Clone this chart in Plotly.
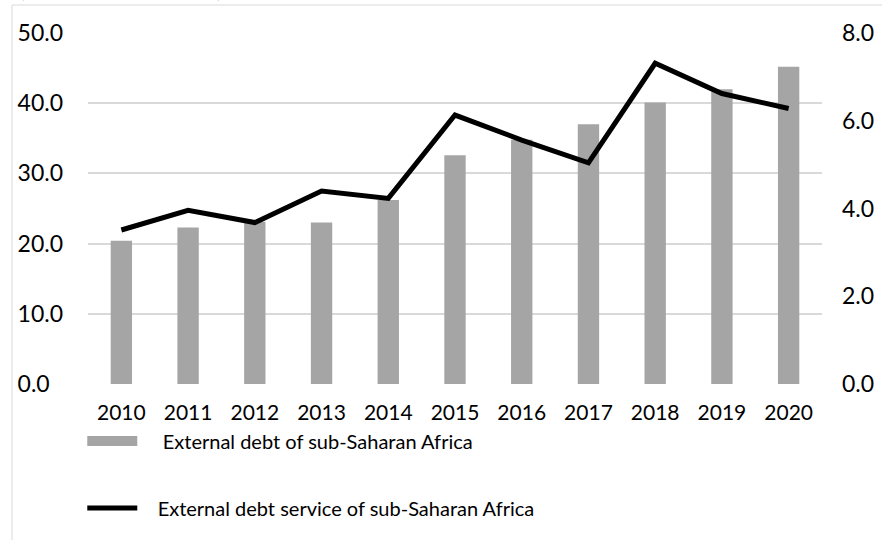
import plotly.graph_objects as go

years = ["2010", "2011", "2012", "2013", "2014", "2015", "2016", "2017", "2018", "2019", "2020"]
external_debt = [20.4, 22.3, 23.1, 23.0, 26.2, 32.6, 34.8, 37.0, 40.1, 42.0, 45.2]
debt_service = [3.51, 3.96, 3.68, 4.40, 4.23, 6.13, 5.56, 5.04, 7.31, 6.62, 6.28]

left_ticks = [0, 10, 20, 30, 40, 50]
left_labels = ["0.0\u2007", "10.0", "20.0", "30.0", "40.0", "50.0"]
right_ticks = [0, 2, 4, 6, 8]
right_labels = ["0.0", "2.0", "4.0", "6.0", "8.0"]

FONT = "Lato"
BAR_COLOR = "#a5a5a5"
fig = go.Figure()
fig.add_trace(go.Bar(
    x=years, y=external_debt, name="External debt of sub-Saharan Africa",
    marker=dict(color=BAR_COLOR, line=dict(width=0)), width=0.32,
    showlegend=False, yaxis="y"))
# legend entry for the bars, drawn as a wide grey swatch like the original
fig.add_trace(go.Scatter(
    x=[None], y=[None], name="\u00a0" * 4 + "External debt of sub-Saharan Africa",
    mode="lines", line=dict(color=BAR_COLOR, width=13), legendgroup="a",
    hoverinfo="skip", yaxis="y"))
fig.add_trace(go.Scatter(
    x=years, y=debt_service, name="\u00a0" * 3 + "External debt service of sub-Saharan Africa",
    mode="lines", line=dict(color="#000000", width=5), legendgroup="b", yaxis="y2"))

fig.update_layout(
    width=882, height=540,
    margin=dict(l=88, r=60, t=33, b=156, autoexpand=False),
    paper_bgcolor="white", plot_bgcolor="white",
    font=dict(family=FONT, size=21, color="#000000"),
    xaxis=dict(type="category", showgrid=False, showline=False, ticks="",
               ticklabelstandoff=14, tickfont=dict(size=21), automargin=False),
    yaxis=dict(range=[0, 50], tickvals=left_ticks, ticktext=left_labels,
               showgrid=True, gridcolor="#d9d9d9", gridwidth=1.5, zeroline=False,
               showline=False, ticks="", ticklabelstandoff=24, tickfont=dict(size=23),
               automargin=False),
    yaxis2=dict(range=[0, 8], tickvals=right_ticks, ticktext=right_labels,
                overlaying="y", side="right", showgrid=False, zeroline=False,
                showline=False, ticks="", ticklabelstandoff=19, tickfont=dict(size=23),
                automargin=False),
    showlegend=True,
    legend=dict(orientation="v", x=-0.0078, xanchor="left", y=-0.107, yanchor="top",
                traceorder="grouped", tracegroupgap=38, itemwidth=50,
                font=dict(family=FONT, size=20), bgcolor="rgba(0,0,0,0)"),
    shapes=[dict(type="rect", xref="paper", yref="paper",
                 x0=(12 - 88) / 734, x1=1.3, y0=-0.6, y1=(384 - 5) / 351,
                 line=dict(color="#d9d9d9", width=1), fillcolor="rgba(0,0,0,0)", layer="below")],
    annotations=[dict(text="(Percentage of GDP)", xref="paper", yref="paper",
                      x=(14 - 88) / 734, y=(384 - 3) / 351, xanchor="left", yanchor="bottom",
                      showarrow=False, font=dict(family="Liberation Serif", size=25, color="#000000"))],
)

fig.write_html("out.html", config={"displayModeBar": False},
               post_script="document.body.style.margin='0';")
